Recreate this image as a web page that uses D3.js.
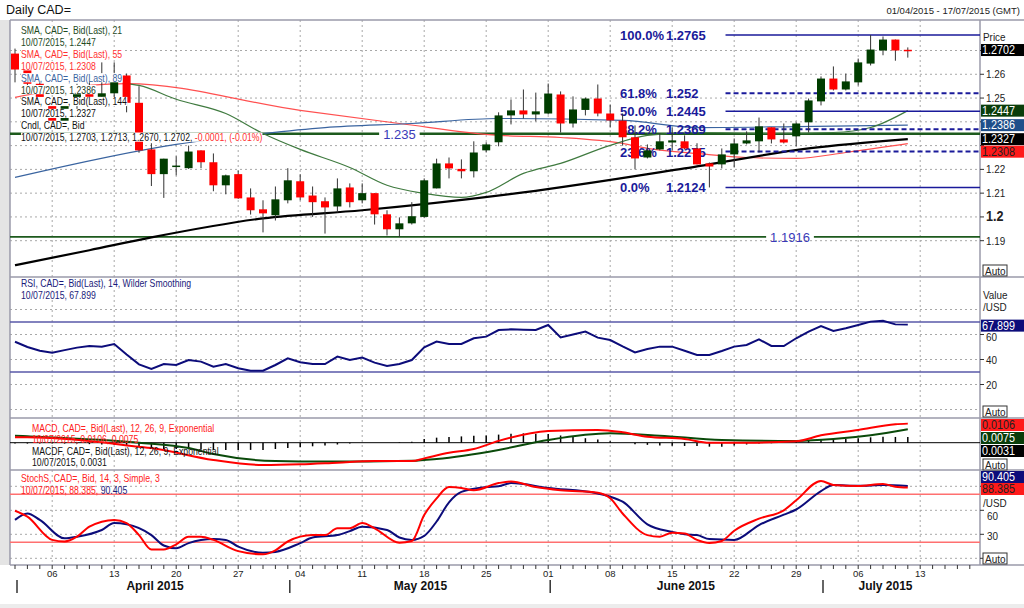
<!DOCTYPE html>
<html><head><meta charset="utf-8">
<script src="https://cdn.jsdelivr.net/npm/d3@7/dist/d3.min.js"></script>
<style>body{margin:0;background:#fff;}svg{display:block;font-family:"Liberation Sans",Arial,sans-serif;}</style>
</head><body><svg id="c" width="1024" height="608"></svg>
<script>
// ---------- DATA ----------
const candles = [ // [open, high, low, close] one per trading day from 01/04/2015
[1.2687,1.2708,1.2566,1.2620],[1.2620,1.2635,1.2540,1.2560],[1.2560,1.2580,1.2470,1.2490],[1.2490,1.2500,1.2375,1.2400],
[1.2400,1.2490,1.2390,1.2475],[1.2475,1.2560,1.2450,1.2545],[1.2545,1.2570,1.2490,1.2505],[1.2505,1.2650,1.2500,1.2520],
[1.2520,1.2650,1.2500,1.2590],[1.2595,1.2603,1.2440,1.2480],[1.2480,1.2550,1.2270,1.2280],[1.2284,1.2310,1.2130,1.2180],
[1.2180,1.2245,1.2080,1.2245],[1.2215,1.2255,1.2175,1.2216],[1.2205,1.2300,1.2202,1.2275],[1.2280,1.2280,1.2205,1.2230],
[1.2230,1.2267,1.2108,1.2133],[1.2133,1.2178,1.2095,1.2175],[1.2180,1.2195,1.2076,1.2078],[1.2082,1.2120,1.2010,1.2028],
[1.2032,1.2070,1.1935,1.2015],[1.2007,1.2128,1.1985,1.2074],[1.2070,1.2205,1.2057,1.2154],[1.2150,1.2180,1.2070,1.2082],
[1.2090,1.2128,1.2000,1.2062],[1.2066,1.2082,1.1930,1.2040],[1.2044,1.2162,1.2019,1.2120],[1.2124,1.2141,1.2040,1.2062],
[1.2070,1.2141,1.2057,1.2100],[1.2100,1.2100,1.1968,1.2011],[1.2011,1.2028,1.1922,1.1948],[1.1948,1.1998,1.1916,1.1973],
[1.1973,1.2062,1.1968,1.2003],[1.2000,1.2162,1.1995,1.2154],[1.2120,1.2245,1.2120,1.2225],[1.2225,1.2250,1.2162,1.2204],
[1.2202,1.2242,1.2162,1.2192],[1.2192,1.2318,1.2166,1.2271],[1.2280,1.2314,1.2271,1.2305],[1.2314,1.2440,1.2297,1.2427],
[1.2427,1.2494,1.2389,1.2448],[1.2448,1.2536,1.2414,1.2431],[1.2431,1.2523,1.2402,1.2444],[1.2435,1.2561,1.2431,1.2519],
[1.2515,1.2528,1.2355,1.2393],[1.2393,1.2507,1.2376,1.2452],[1.2450,1.2502,1.2427,1.2498],[1.2498,1.2557,1.2423,1.2435],
[1.2435,1.2473,1.2376,1.2406],[1.2405,1.2435,1.2300,1.2335],[1.2335,1.2385,1.2200,1.2246],[1.2250,1.2305,1.2246,1.2280],
[1.2284,1.2351,1.2280,1.2318],[1.2313,1.2377,1.2280,1.2322],[1.2318,1.2343,1.2284,1.2288],[1.2288,1.2310,1.2221,1.2221],
[1.2225,1.2229,1.2124,1.2212],[1.2221,1.2288,1.2204,1.2263],[1.2263,1.2330,1.2208,1.2309],[1.2309,1.2360,1.2305,1.2322],
[1.2318,1.2418,1.2271,1.2381],[1.2377,1.2377,1.2309,1.2326],[1.2326,1.2393,1.2309,1.2313],[1.2339,1.2398,1.2297,1.2393],
[1.2398,1.2498,1.2355,1.2490],[1.2486,1.2591,1.2469,1.2582],[1.2582,1.2633,1.2532,1.2536],[1.2536,1.2603,1.2532,1.2570],
[1.2566,1.2666,1.2553,1.2650],[1.2645,1.2765,1.2637,1.2704],[1.2700,1.2759,1.2680,1.2746],[1.2746,1.2746,1.2657,1.2700],
[1.2703,1.2713,1.2670,1.2702]];
// moving averages: [trading-day index, value]
const sma21 = [[9,1.2561],[10,1.2553],[13,1.2495],[17,1.2435],[20,1.2351],[23,1.2284],[27,1.2208],[30,1.2133],[33,1.2099],[36,1.2082],[38,1.2103],[41,1.2183],[44,1.2225],[48,1.2301],[51,1.2343],[55,1.2355],[61,1.2351],[66,1.2355],[69,1.2376],[72,1.2447]];
const sma55 = [[0,1.2503],[6,1.2553],[9,1.2561],[23,1.2448],[31,1.2393],[39,1.2343],[44,1.2334],[49,1.2309],[51,1.2288],[55,1.2267],[59,1.2250],[63,1.2246],[67,1.2271],[72,1.2308]];
const sma89 = [[0,1.2166],[13,1.2305],[20,1.2351],[25,1.2376],[32,1.2393],[39,1.2414],[49,1.2406],[55,1.2376],[63,1.2380],[72,1.2386]];
const sma144 = [[0,1.1797],[6,1.1860],[11,1.1914],[20,1.1994],[28,1.2028],[41,1.2103],[54,1.2204],[64,1.2288],[72,1.2327]];
const fibLevels = [["100.0%","1.2765",1.2765,false],["61.8%","1.252",1.2520,true],["50.0%","1.2445",1.2445,false],["38.2%","1.2369",1.2369,true],["23.6%","1.2275",1.2275,true],["0.0%","1.2124",1.2124,false]];
const hLines = [[1.235,"1.235",31],[1.1916,"1.1916",62.5]];
const priceTicks = [1.19,1.2,1.21,1.22,1.23,1.24,1.25,1.26,1.27];
const rsi = [54.2,50,47,45.5,47.5,49.5,50.8,50.3,52.4,44,36.1,32.4,36.4,35.6,39.6,38.3,34.3,36.4,33,31,31,35.6,41,37.8,36.4,36.4,42.3,39.6,41.5,37.5,34.8,36.4,39.6,49.8,54.3,52.4,52.4,57,58.3,63.6,64.1,63.8,63.6,67.6,57.7,60,62.3,57.5,55.6,50.5,45.7,48.4,50.3,50.3,47,43.6,43.6,46.8,50.3,51.6,56.1,50.8,50.8,57,62.3,66.8,62.8,65,67.6,70.3,71,68.1,67.9];
const macd = [[0,0.003],[1,0.003],[10,-0.0022],[11,-0.003],[16,-0.0096],[20,-0.0124],[23,-0.012],[26,-0.0111],[29,-0.0102],[32,-0.0102],[33,-0.0087],[35,-0.0056],[37,-0.0035],[39,0.001],[43,0.0065],[47,0.0071],[49,0.0058],[51,0.0033],[54,0.0021],[56,0],[59,0],[63,0.0008],[65,0.0041],[68,0.0071],[71,0.0102],[72,0.0106]];
const macdSignal = [[0,0.0039],[1,0.0036],[10,0],[14,-0.003],[16,-0.0063],[21,-0.0102],[25,-0.0105],[32,-0.01],[34,-0.009],[39,-0.004],[43,0.0015],[48,0.0052],[52,0.0039],[57,0.0015],[63,0.001],[66,0.002],[69,0.0041],[72,0.0075]];
const macdHist = [-0.0005,-0.0005,-0.0005,-0.0005,-0.0005,-0.0005,-0.0008,-0.001,-0.0012,-0.0018,-0.0025,-0.003,-0.0035,-0.0035,-0.0037,-0.0037,-0.004,-0.004,-0.004,-0.004,-0.004,-0.0035,-0.003,-0.0025,-0.002,-0.0015,-0.001,-0.0005,0,0,0,0.0003,0.0005,0.002,0.0028,0.0032,0.0035,0.0038,0.004,0.0045,0.005,0.0052,0.005,0.0048,0.004,0.0032,0.0025,0.0018,0.0008,0,-0.0008,-0.0012,-0.0015,-0.0017,-0.0018,-0.0018,-0.0022,-0.0022,-0.0015,-0.001,-0.0005,-0.0003,0,0.0005,0.001,0.0015,0.0018,0.002,0.0025,0.003,0.0033,0.0032,0.0031];
const stochK = [[0,59.5],[1,52],[3,23],[4,21],[5,27],[6,39.5],[8,48],[9,44],[10,29],[11,11],[12,11],[13,17.5],[14,27],[15,27],[16,23],[18,9],[20,5],[21,10],[22,21],[24,29],[25,29],[26,37.5],[27,37.5],[28,44],[29,37.5],[31,19.5],[32,21.6],[33,54],[34,75],[35,89],[36,88],[37,85],[39,94],[40,96],[42,89],[44,85],[47,82],[48,75],[49,56],[51,29],[52,27],[53,32],[54,31],[55,23],[56,19],[57,21.6],[58,34.5],[60,49.5],[62,60],[63,72.5],[65,96.6],[66,91.6],[68,90.4],[70,93],[71,89.5],[72,88.4]];
const stochD = [[0,48],[1,56],[2,48],[4,25],[5,27],[7,35.4],[8,44],[9,42.5],[11,29],[12,16],[13,12.5],[14,19],[16,24],[17,23],[18,14.5],[20,7],[21,8],[23,19],[24,26],[26,29],[27,34],[28,39.5],[30,35.4],[31,26],[32,23],[33,28],[34,46],[35,70],[36,83],[38,89],[39,90],[40,94],[43,88],[47,81],[48,77],[49,70.7],[51,42.5],[53,33],[54,30],[55,29],[56,24],[58,23],[60,41.6],[62,54.5],[63,61],[65,84],[66,91.6],[68,90.7],[70,91.6],[72,90.4]];
const monthLabels = [["April 2015",11.3],["May 2015",32.7],["June 2015",54.1],["July 2015",70.2]];

// ---------- LAYOUT ----------
const svg = d3.select("#c");
const L = 10, R = 980, B = 565;
const x = d3.scaleLinear().domain([0,72]).range([15,15+72*12.4]);
const panels = {main:[20,277], rsi:[277,418], macd:[418,470], sto:[470,B]};
const yP = d3.scaleLinear().domain([1.19,1.27]).range([240.7,50.5]);
const yR = d3.scaleLinear().domain([0,100]).range([409.5,284.5]);
const yM = d3.scaleLinear().domain([0,0.01]).range([442.7,424.7]);
const yS = d3.scaleLinear().domain([0,100]).range([558.3,478.3]);
function ntext(parent,x0,y0,f){ return parent.append("g").attr("transform",`translate(${x0},${y0}) scale(${f||0.79},1)`).append("text").attr("x",0).attr("y",0); }

const days = d3.timeDay.range(new Date(2015,3,1), new Date(2015,6,21)).filter(d=>d.getDay()>0&&d.getDay()<6);
const mondays = days.map((d,i)=>[d,i]).filter(([d,i])=>d.getDay()===1 && x(i)<R);

svg.append("rect").attr("x",0).attr("y",0).attr("width",1024).attr("height",608).attr("fill","#fff");
svg.append("rect").attr("x",0).attr("y",604).attr("width",1024).attr("height",4).attr("fill","#ececec");
svg.append("rect").attr("x",0).attr("y",20).attr("width",L).attr("height",B-20).attr("fill","#e4e4e4");

const grid = svg.append("g").attr("stroke","#a8a8a8").attr("stroke-dasharray","2,3").attr("stroke-width",1);
mondays.forEach(([d,i])=>grid.append("line").attr("x1",x(i)).attr("x2",x(i)).attr("y1",20).attr("y2",B));
priceTicks.forEach(p=>grid.append("line").attr("x1",L).attr("x2",R).attr("y1",yP(p)).attr("y2",yP(p)));
[0,20,40,60,80].forEach(v=>grid.append("line").attr("x1",L).attr("x2",R).attr("y1",yR(v)).attr("y2",yR(v)));
[0,30,60,90].forEach(v=>grid.append("line").attr("x1",L).attr("x2",R).attr("y1",yS(v)).attr("y2",yS(v)));

const bord = svg.append("g").attr("stroke","#9a9aaa").attr("stroke-width",1.5);
[20,277,418,470,B].forEach(y=>bord.append("line").attr("x1",L).attr("x2",1024).attr("y1",y).attr("y2",y));
bord.append("line").attr("x1",L).attr("x2",L).attr("y1",20).attr("y2",B);
bord.append("line").attr("x1",R).attr("x2",R).attr("y1",20).attr("y2",B);

const defs = svg.append("defs");
Object.entries(panels).forEach(([k,[a,b]])=>defs.append("clipPath").attr("id","cl-"+k).append("rect").attr("x",L).attr("y",a).attr("width",R-L).attr("height",b-a));
const gMain = svg.append("g").attr("clip-path","url(#cl-main)");

hLines.forEach(([v,t,li])=>{
  gMain.append("line").attr("x1",L).attr("x2",R).attr("y1",yP(v)).attr("y2",yP(v)).attr("stroke","#1d5a1d").attr("stroke-width",v>1.2?2.5:1.8);
  const bgr = gMain.append("rect").attr("fill","#fff");
  const tx = gMain.append("text").attr("x",x(li)).attr("y",yP(v)+5).attr("font-size",13).attr("fill","#3a3ab8").attr("text-anchor","middle").text(t);
  const bb = tx.node().getBBox();
  bgr.attr("x",bb.x-4).attr("y",yP(v)-2).attr("width",bb.width+8).attr("height",4);
});

const lineP = d3.line().x(d=>x(d[0])).y(d=>yP(d[1])).curve(d3.curveMonotoneX);
gMain.append("path").datum(sma55).attr("d",lineP).attr("fill","none").attr("stroke","#ff5050").attr("stroke-width",1.2);
gMain.append("path").datum(sma89).attr("d",lineP).attr("fill","none").attr("stroke","#3a64a0").attr("stroke-width",1.2);
gMain.append("path").datum(sma21).attr("d",lineP).attr("fill","none").attr("stroke","#3f7a3f").attr("stroke-width",1.2);
gMain.append("path").datum(sma144).attr("d",lineP).attr("fill","none").attr("stroke","#000").attr("stroke-width",2.2);

const fx1 = x(57.3);
fibLevels.forEach(([pct,val,v,dash])=>{
  gMain.append("line").attr("x1",fx1).attr("x2",R).attr("y1",yP(v)).attr("y2",yP(v)).attr("stroke","#1a1a9a").attr("stroke-width",dash?2:1.5).attr("stroke-dasharray",dash?"5,3":null);
  gMain.append("text").attr("x",620).attr("y",yP(v)+5).attr("font-size",13).attr("font-weight","bold").attr("fill","#1a1a9a").text(pct);
  gMain.append("text").attr("x",666).attr("y",yP(v)+5).attr("font-size",13).attr("font-weight","bold").attr("fill","#1a1a9a").text(val);
});

const cg = gMain.append("g");
candles.forEach((c,i)=>{
  const [o,h,l,cl]=c, up = cl>=o, col = up?"#003d00":"#ff0000";
  cg.append("line").attr("x1",x(i)).attr("x2",x(i)).attr("y1",yP(h)).attr("y2",yP(l)).attr("stroke","#333").attr("stroke-width",1);
  const y1=yP(Math.max(o,cl)), y2=yP(Math.min(o,cl));
  cg.append("rect").attr("x",x(i)-4).attr("y",y1).attr("width",8).attr("height",Math.max(1.5,y2-y1)).attr("fill",col);
});

function legendLine(y,parts,x0,bg){
  const t = ntext(svg,x0||21,y).attr("font-size",11);
  parts.forEach(([s,c])=>t.append("tspan").attr("fill",c).text(s));
  if(bg!==false){ const bb=t.node().getBBox();
    d3.select(t.node().parentNode).insert("rect","text").attr("fill","#fff").attr("x",bb.x).attr("y",bb.y+1.5).attr("width",bb.width).attr("height",bb.height-3); }
}
const mleg = [["SMA, CAD=, Bid(Last),  21","#1e4a1e"],["10/07/2015, 1.2447","#1e4a1e"],["SMA, CAD=, Bid(Last),  55","#ff3030"],["10/07/2015, 1.2308","#ff3030"],["SMA, CAD=, Bid(Last),  89","#3a64a0"],["10/07/2015, 1.2386","#1e3a1e"],["SMA, CAD=, Bid(Last),  144","#111"],["10/07/2015, 1.2327","#111"],["Cndl, CAD=, Bid","#111"]];
mleg.forEach(([t,c],k)=>legendLine(34+k*11.9,[[t,c]]));
legendLine(141,[["10/07/2015, 1.2703, 1.2713, 1.2670, 1.2702, ","#111"],["-0.0001, (-0.01%)","#ff3030"]]);

const gR = svg.append("g").attr("clip-path","url(#cl-rsi)");
[70,30].forEach(v=>gR.append("line").attr("x1",L).attr("x2",R).attr("y1",yR(v)).attr("y2",yR(v)).attr("stroke","#5858a8").attr("stroke-width",1.5));
gR.append("path").datum(rsi).attr("d",d3.line().x((d,i)=>x(i)).y(d=>yR(d))).attr("fill","none").attr("stroke","#0c0c7a").attr("stroke-width",2);
legendLine(287,[["RSI, CAD=, Bid(Last),  14, Wilder Smoothing","#1a1a7a"]]);
legendLine(299,[["10/07/2015, 67.899","#1a1a7a"]]);

const gM = svg.append("g").attr("clip-path","url(#cl-macd)");
gM.append("line").attr("x1",L).attr("x2",R).attr("y1",yM(0)).attr("y2",yM(0)).attr("stroke","#000").attr("stroke-width",1);
macdHist.forEach((v,i)=>gM.append("line").attr("x1",x(i)).attr("x2",x(i)).attr("y1",yM(0)).attr("y2",yM(v)).attr("stroke","#000").attr("stroke-width",1.5));
const lineM = d3.line().x(d=>x(d[0])).y(d=>yM(d[1])).curve(d3.curveMonotoneX);
gM.append("path").datum(macdSignal).attr("d",lineM).attr("fill","none").attr("stroke","#0a4a0a").attr("stroke-width",2);
gM.append("path").datum(macd).attr("d",lineM).attr("fill","none").attr("stroke","#ff0000").attr("stroke-width",2);
const ml = [["MACD, CAD=, Bid(Last),  12, 26, 9, Exponential","#ff2020"],["10/07/2015, 0.0106, 0.0075","#ff2020"],["MACDF, CAD=, Bid(Last),  12, 26, 9, Exponential","#111"],["10/07/2015, 0.0031","#111"]];
ml.forEach(([t,c],k)=>legendLine(432+k*11.4,[[t,c]],32,false));

const gS = svg.append("g").attr("clip-path","url(#cl-sto)");
[80,20].forEach(v=>gS.append("line").attr("x1",L).attr("x2",R).attr("y1",yS(v)).attr("y2",yS(v)).attr("stroke","#ff7070").attr("stroke-width",1.5));
const lineS = d3.line().x(d=>x(d[0])).y(d=>yS(d[1])).curve(d3.curveMonotoneX);
gS.append("path").datum(stochD).attr("d",lineS).attr("fill","none").attr("stroke","#0c0c7a").attr("stroke-width",2);
gS.append("path").datum(stochK).attr("d",lineS).attr("fill","none").attr("stroke","#ff0000").attr("stroke-width",2);
legendLine(482,[["StochS, CAD=, Bid,  14, 3, Simple, 3","#ff2020"]],21,false);
legendLine(494,[["10/07/2015, 88.385, ","#ff2020"],["90.405","#1a1a7a"]],21,false);

const ax = svg.append("g").attr("font-size",11).attr("fill","#222");
function atext(x0,y0,t,opts){ const e=ntext(ax,x0,y0,0.9).text(t); if(opts) Object.entries(opts).forEach(([k,v])=>e.attr(k,v)); return e; }
function tick(y,label,size){ ax.append("line").attr("x1",R).attr("x2",R+4).attr("y1",y).attr("y2",y).attr("stroke","#333");
  if(label) atext(R+6,y+4,label,size?{"font-size":size,"font-weight":"bold"}:null); }
priceTicks.forEach(p=>tick(yP(p), (p===1.27||p===1.24||p===1.23)?null:(p===1.2?"1.2":d3.format(".2f")(p)), p===1.2?14:null));
atext(983,41,"Price");
[20,40].forEach(v=>tick(yR(v),String(v)));
tick(yR(60),null); atext(R+6,yR(60)+6,"60");
atext(983,299,"Value");
atext(983,311,"/USD");
[0,30,60,90].forEach(v=>tick(yS(v),null));
atext(987,yS(60)+10,"60");
atext(987,yS(30)+6,"30");
atext(983,507,"/USD");
function box(y,t,bg,fg){ ax.append("rect").attr("x",R+1).attr("y",y-6).attr("width",43).attr("height",12).attr("fill",bg);
  atext(R+2,y+4,t,{"fill":fg||"#fff","font-size":12}); }
box(yP(1.2702),"1.2702","#000");
box(yP(1.2447),"1.2447","#0a3d0a");
box(yP(1.2386),"1.2386","#1f4f8a");
box(yP(1.2327),"1.2327","#000");
box(yP(1.2327)+12.5,"1.2308","#ff1a1a","#222");
box(yR(67.899)+1,"67.899","#0c0c7a");
box(425,"0.0106","#ff1a1a","#222");
box(438,"0.0075","#0a3d0a");
box(451,"0.0031","#000");
box(477,"90.405","#0c0c7a");
box(489,"88.385","#ff1a1a","#222");
function auto(y){ ax.append("rect").attr("x",983).attr("y",y).attr("width",24).attr("height",11).attr("fill","#fff").attr("stroke","#333");
  ax.append("text").attr("x",985).attr("y",y+9.5).attr("font-size",10).text("Auto"); }
auto(265); auto(406); auto(459); auto(553);

const bx = svg.append("g");
days.forEach((d,i)=>{ if(x(i)<R) bx.append("line").attr("x1",x(i)).attr("x2",x(i)).attr("y1",B).attr("y2",B+4).attr("stroke","#333"); });
mondays.forEach(([d,i])=>bx.append("text").attr("x",x(i)).attr("y",577).attr("font-size",9.5).attr("text-anchor","middle").attr("fill","#222").text(d3.timeFormat("%d")(d)));
days.forEach((d,i)=>{ if(i===0 || days[i-1].getMonth()!==d.getMonth()) bx.append("line").attr("x1",x(i)+2).attr("x2",x(i)+2).attr("y1",580).attr("y2",593).attr("stroke","#333").attr("stroke-width",1.5); });
monthLabels.forEach(([t,i])=>bx.append("text").attr("x",x(i)).attr("y",590).attr("font-size",12).attr("font-weight","bold").attr("text-anchor","middle").attr("fill","#111").text(t));

svg.append("text").attr("x",6).attr("y",14).attr("font-size",12.5).attr("fill","#111").text("Daily CAD=");
svg.append("text").attr("x",1020).attr("y",14).attr("font-size",9.5).attr("text-anchor","end").attr("fill","#222").text("01/04/2015 - 17/07/2015 (GMT)");
</script></body></html>
